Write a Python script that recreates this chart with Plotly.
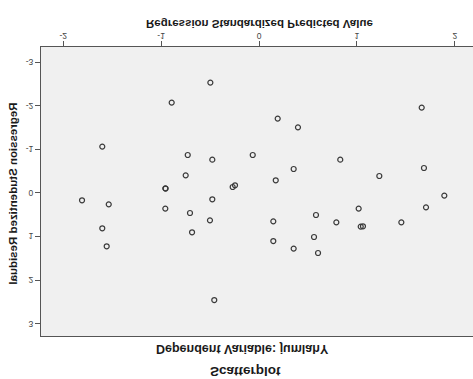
import plotly.graph_objects as go

# Regression diagnostics for the model of jumlahY:
# standardized predicted value vs studentized residual, one pair per case.
pred_std = [
    -0.497, -0.892, 1.662, 0.191, 0.398, -1.601, -0.728, -0.477, -0.064, 0.830,
    1.685, -0.749, 0.354, 1.229, 0.171, -0.269, -0.245, -0.957, -0.954, 1.893,
    -1.808, -0.477, -1.535, -0.957, -0.705, -0.501, -1.601, -0.684, -1.556, -0.457,
    1.706, 1.018, 0.582, 0.146, 0.790, 1.039, 1.062, 1.454, 0.562, 0.146,
    0.354, 0.603,
]
resid_stud = [
    -2.528, -2.069, -1.954, -1.702, -1.502, -1.060, -0.867, -0.761, -0.867, -0.761,
    -0.569, -0.401, -0.546, -0.385, -0.287, -0.133, -0.172, -0.103, -0.098, 0.064,
    0.172, 0.149, 0.264, 0.362, 0.463, 0.631, 0.814, 0.906, 1.227, 2.459,
    0.333, 0.362, 0.509, 0.654, 0.677, 0.775, 0.768, 0.677, 1.014, 1.106,
    1.280, 1.381,
]

x_ticks = [-2, -1, 0, 1, 2]
y_ticks = [-3, -2, -1, 0, 1, 2, 3]

chart_title = "Scatterplot"
chart_subtitle = "Dependent Variable: jumlahY"
x_title = "Regression Standardized Predicted Value"
y_title = "Regression Studentized Residual"

FONT = "Liberation Sans, Arial, Helvetica, sans-serif"
AXIS_COLOR = "#555555"
TEXT_COLOR = "#1a1a1a"

fig = go.Figure(
    go.Scatter(
        x=pred_std,
        y=resid_stud,
        mode="markers",
        marker=dict(
            symbol="circle-open",
            size=5,
            color="#3a3a3a",
            line=dict(width=1.2, color="#3a3a3a"),
        ),
        hoverinfo="skip",
    )
)

fig.update_layout(
    width=473,
    height=379,
    margin=dict(l=41, r=0, t=43, b=47, pad=0),
    paper_bgcolor="white",
    plot_bgcolor="#f0f0f0",
    showlegend=False,
    font=dict(family=FONT, color="#333333"),
)

axis_style = dict(
    ticks="outside",
    ticklen=5,
    tickwidth=1,
    tickcolor=AXIS_COLOR,
    tickfont=dict(size=8.5, color="#444444"),
    showline=True,
    linecolor=AXIS_COLOR,
    linewidth=1,
    showgrid=False,
    zeroline=False,
)
fig.update_xaxes(
    range=[-2.227, 2.186],
    tickvals=x_ticks,
    ticktext=[str(v) for v in x_ticks],
    mirror=True,
    ticklabelstandoff=-2,
    **axis_style,
)
fig.update_yaxes(
    range=[-3.344, 3.284],
    tickvals=y_ticks,
    ticktext=[str(v) for v in y_ticks],
    mirror=False,
    **axis_style,
)

# Plot-area size in pixels, used to place the text blocks by pixel position
plot_w = 473 - 41
plot_h = 379 - 43 - 47


def px_x(px):
    return (px - 41) / plot_w


def px_y(py):
    return (379 - 47 - py) / plot_h


fig.add_annotation(text="<b>" + chart_title + "</b>", xref="paper", yref="paper",
                   x=px_x(245), y=px_y(7.5), showarrow=False,
                   font=dict(family=FONT, size=13.5, color=TEXT_COLOR),
                   xanchor="center", yanchor="middle")
fig.add_annotation(text="<b>" + chart_subtitle + "</b>", xref="paper", yref="paper",
                   x=px_x(242), y=px_y(29.5), showarrow=False,
                   font=dict(family=FONT, size=12.5, color=TEXT_COLOR),
                   xanchor="center", yanchor="middle")
fig.add_annotation(text="<b>" + x_title + "</b>", xref="paper", yref="paper",
                   x=px_x(259), y=px_y(355), showarrow=False,
                   font=dict(family=FONT, size=11.5, color=TEXT_COLOR),
                   xanchor="center", yanchor="middle")
fig.add_annotation(text="<b>" + y_title + "</b>", xref="paper", yref="paper",
                   x=px_x(12.5), y=px_y(186), showarrow=False, textangle=-90,
                   font=dict(family=FONT, size=11.5, color=TEXT_COLOR),
                   xanchor="center", yanchor="middle")

# The exported page shows the chart mirrored top-to-bottom
fig.write_html(
    "out.html",
    config={"displayModeBar": False, "staticPlot": True},
    post_script=(
        "var gd = document.getElementById('{plot_id}');"
        "gd.style.transformOrigin = '50% 50%';"
        "gd.style.transform = 'scaleY(-1)';"
    ),
)
